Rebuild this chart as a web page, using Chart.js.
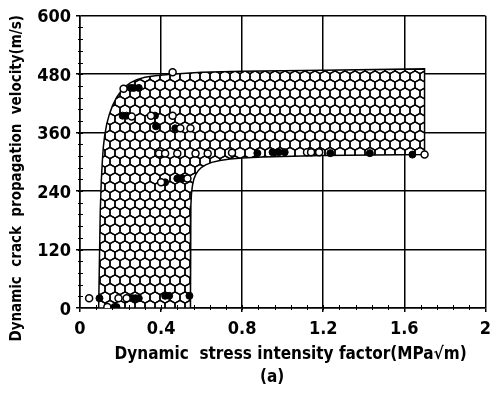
<!DOCTYPE html>
<html>
<head>
<meta charset="utf-8">
<script src="https://cdn.jsdelivr.net/npm/chart.js@4/dist/chart.umd.min.js"></script>
<style>
  html, body { margin: 0; padding: 0; background: #fff; }
  #wrap { width: 498px; height: 403px; position: relative; }
</style>
</head>
<body>
<div id="wrap"><canvas id="c" width="498" height="403"></canvas></div>
<script>
// ---- data ----
const xTicks = [0, 0.4, 0.8, 1.2, 1.6, 2];
const yTicks = [0, 120, 240, 360, 480, 600];

// boundary of the hatched region (x = K, y = velocity)
const regionX = [0.545, 0.092, 0.096, 0.1, 0.105, 0.11, 0.115, 0.122, 0.132, 0.145, 0.16, 0.18, 0.2, 0.225, 0.25, 0.28, 0.32, 0.37, 0.45, 0.6, 0.8, 1.2, 1.7, 1.7, 1.2, 0.9, 0.8, 0.74, 0.69, 0.65, 0.62, 0.6, 0.585, 0.572, 0.562, 0.555, 0.55, 0.547, 0.545];
const regionY = [0, 0, 100, 200, 260, 300, 330, 355, 378, 398, 415, 432, 444, 455, 463, 469, 474, 477, 480, 484, 486, 488, 491, 315, 313, 310, 308, 306, 303, 299, 294, 289, 283, 275, 265, 252, 235, 210, 0];

// open circles
const openX = [0.045, 0.135, 0.19, 0.23, 0.215, 0.457, 0.255, 0.35, 0.457, 0.495, 0.545, 0.39, 0.42, 0.48, 0.57, 0.63, 0.75, 0.4, 0.53, 1.12, 1.14, 1.18, 1.7];
const openY = [20, 2, 20, 20, 450, 484, 393, 395, 395, 369, 369, 317, 317, 317, 317, 317, 319, 258, 266, 320, 320, 320, 315];

// filled dots
const fillX = [0.096, 0.17, 0.18, 0.26, 0.275, 0.29, 0.42, 0.44, 0.54, 0.25, 0.265, 0.29, 0.21, 0.23, 0.37, 0.375, 0.47, 0.42, 0.48, 0.505, 0.875, 0.95, 0.98, 1.01, 1.235, 1.43, 1.64];
const fillY = [20, 2, 2, 20, 20, 20, 25, 25, 25, 452, 452, 452, 395, 395, 395, 373, 369, 258, 266, 266, 318, 320, 320, 320, 318, 318, 315];

const xMinorStep = 0.08;
const yMinorStep = 24;

const xTitle = ["   Dynamic  stress intensity factor(MPa√m)", "(a)    "];
const yTitle = "Dynamic  crack  propagation  velocity(m/s)       ";

// ---- helpers ----
const zip = (xs, ys) => xs.map((x, i) => ({ x: x, y: ys[i] }));

function hexPattern() {
  const W = 10, H = 17;
  const cv = document.createElement('canvas');
  cv.width = W; cv.height = H;
  const g = cv.getContext('2d');
  g.fillStyle = '#fff';
  g.fillRect(0, 0, W, H);
  g.strokeStyle = '#000';
  g.lineWidth = 1.4;
  const rx = W / 2, ry = H / 3 * 0.98;
  const centers = [[0, 0], [W, 0], [W / 2, H / 2], [0, H], [W, H], [-W / 2, H / 2], [W * 1.5, H / 2], [W / 2, -H / 2], [W / 2, H * 1.5]];
  centers.forEach(([cx, cy]) => {
    g.beginPath();
    g.moveTo(cx, cy - ry);
    g.lineTo(cx + rx, cy - ry / 2);
    g.lineTo(cx + rx, cy + ry / 2);
    g.lineTo(cx, cy + ry);
    g.lineTo(cx - rx, cy + ry / 2);
    g.lineTo(cx - rx, cy - ry / 2);
    g.closePath();
    g.stroke();
  });
  return document.getElementById('c').getContext('2d').createPattern(cv, 'repeat');
}

const FONT = "'DejaVu Sans Condensed', 'Liberation Sans Narrow', sans-serif";

const minorTicks = {
  id: 'minorTicks',
  afterDatasetsDraw(chart) {
    const ctx = chart.ctx;
    const xs = chart.scales.x, ys = chart.scales.y;
    const a = chart.chartArea;
    ctx.save();
    ctx.strokeStyle = '#000';
    ctx.lineWidth = 1;
    ctx.beginPath();
    for (let v = xMinorStep; v < 2 - 1e-9; v += xMinorStep) {
      const px = Math.round(xs.getPixelForValue(v)) + 0.5;
      ctx.moveTo(px, a.bottom - 3);
      ctx.lineTo(px, a.bottom + 2);
    }
    for (let v = yMinorStep; v < 600 - 1e-9; v += yMinorStep) {
      const py = Math.round(ys.getPixelForValue(v)) + 0.5;
      ctx.moveTo(a.left - 2, py);
      ctx.lineTo(a.left + 3, py);
    }
    ctx.stroke();
    ctx.restore();
  }
};

new Chart(document.getElementById('c'), {
  type: 'scatter',
  data: {
    datasets: [
      {
        label: 'open',
        data: zip(openX, openY),
        pointStyle: 'circle',
        pointRadius: 3.5,
        borderWidth: 1.5,
        borderColor: '#000',
        backgroundColor: '#fff',
        showLine: false,
        order: 1
      },
      {
        label: 'filled',
        data: zip(fillX, fillY),
        pointStyle: 'circle',
        pointRadius: 3.5,
        borderWidth: 1,
        borderColor: '#000',
        backgroundColor: '#000',
        showLine: false,
        order: 2
      },
      {
        label: 'region',
        type: 'line',
        data: zip(regionX, regionY),
        showLine: true,
        fill: 'shape',
        backgroundColor: hexPattern(),
        borderColor: '#000',
        borderWidth: 1.5,
        pointRadius: 0,
        tension: 0,
        order: 10
      }
    ]
  },
  options: {
    responsive: false,
    animation: false,
    events: [],
    layout: { padding: { top: 14, right: 2, left: 0, bottom: 0 } },
    plugins: { legend: { display: false }, tooltip: { enabled: false } },
    scales: {
      x: {
        type: 'linear',
        min: 0, max: 2,
        afterBuildTicks(s) { s.ticks = xTicks.map(v => ({ value: v })); },
        afterFit(s) { s.height = 95; },
        grid: { color: '#000', lineWidth: 1.5, tickLength: 4, drawTicks: true, tickColor: '#000' },
        border: { color: '#000', width: 1.5 },
        ticks: {
          color: '#000',
          font: { family: FONT, size: 18, weight: 'bold' },
          padding: 7,
          maxRotation: 0,
          autoSkip: false,
          callback: v => String(v)
        },
        title: {
          display: true,
          text: xTitle,
          color: '#000',
          font: { family: FONT, size: 17, weight: 'bold', lineHeight: 1.35 },
          padding: { top: 0, bottom: 14 }
        }
      },
      y: {
        type: 'linear',
        min: 0, max: 600,
        afterBuildTicks(s) { s.ticks = yTicks.map(v => ({ value: v })); },
        afterFit(s) { s.width = 80; },
        grid: { color: '#000', lineWidth: 1.5, tickLength: 4, drawTicks: true, tickColor: '#000' },
        border: { color: '#000', width: 1.5 },
        ticks: {
          color: '#000',
          font: { family: FONT, size: 18, weight: 'bold' },
          padding: 5,
          labelOffset: 2,
          autoSkip: false,
          callback: v => String(v)
        },
        title: {
          display: true,
          text: yTitle,
          color: '#000',
          font: { family: FONT, size: 15, weight: 'bold' },
          padding: { top: 8, bottom: 0 }
        }
      }
    }
  },
  plugins: [minorTicks]
});
</script>
</body>
</html>
